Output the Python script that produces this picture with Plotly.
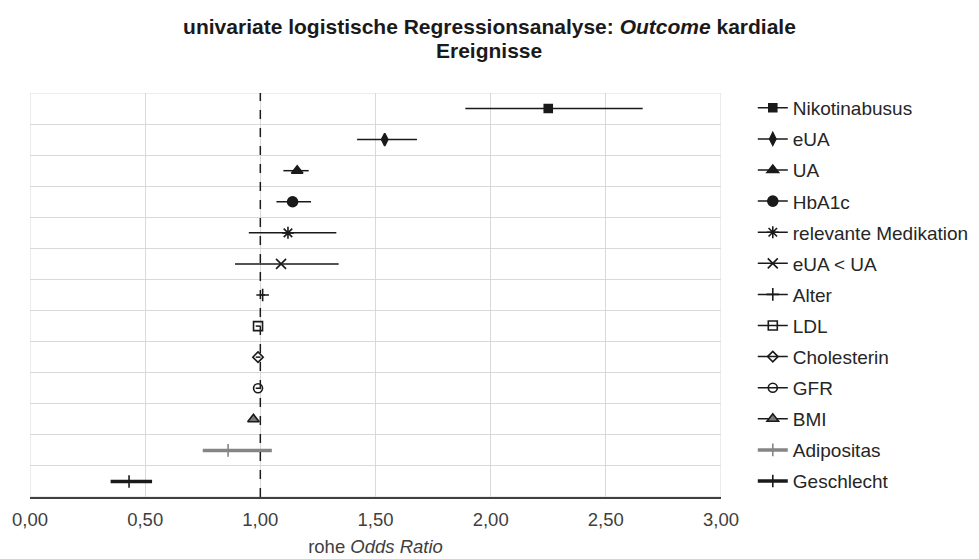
import plotly.graph_objects as go

# Predictors, top to bottom
predictors = ["Nikotinabusus", "eUA", "UA", "HbA1c", "relevante Medikation",
              "eUA < UA", "Alter", "LDL", "Cholesterin", "GFR", "BMI",
              "Adipositas", "Geschlecht"]
odds_ratio = [2.25, 1.54, 1.16, 1.14, 1.12, 1.09, 1.01, 0.99, 0.99, 0.99, 0.97, 0.86, 0.43]
ci_lower = [1.89, 1.42, 1.10, 1.07, 0.95, 0.89, 1.00, 0.98, 0.98, 0.98, 0.96, 0.75, 0.35]
ci_upper = [2.66, 1.68, 1.21, 1.22, 1.33, 1.34, 1.02, 1.00, 1.00, 1.00, 0.98, 1.05, 0.53]
x_ticks = [0, 0.5, 1.0, 1.5, 2.0, 2.5, 3.0]

# Marker / line style per predictor
symbols = ["square", "diamond-tall", "triangle-up", "circle", "asterisk-open",
           "x-thin-open", "cross-thin-open", "square-open", "diamond-open",
           "circle-open", "triangle-up", "line-ns-open", "line-ns-open"]
sizes = [8, 9, 10, 10, 10, 10, 9, 9, 8, 9, 10, 9, 9]
colors = ["#1a1a1a"] * 11 + ["#858585", "#1a1a1a"]
fills = ["#1a1a1a"] * 10 + ["#7a7a7a", "#858585", "#1a1a1a"]
widths = [1.5] * 11 + [3.5, 3.5]

n = len(predictors)
fig = go.Figure()
for i, name in enumerate(predictors):
    ypos = n - i - 0.5
    fig.add_trace(go.Scatter(
        x=[odds_ratio[i]], y=[ypos], name=name, mode="lines+markers",
        legendgroup=name,
        line=dict(color=colors[i], width=widths[i]),
        marker=dict(symbol=symbols[i], size=sizes[i], color=fills[i],
                    line=dict(color=colors[i], width=1.6)),
        error_x=dict(type="data", symmetric=False,
                     array=[ci_upper[i] - odds_ratio[i]],
                     arrayminus=[odds_ratio[i] - ci_lower[i]],
                     width=0, thickness=widths[i], color=colors[i]),
        showlegend=True,
    ))

# Frame lines on the left/right/top edges of the plot area
fig.add_shape(type="rect", x0=0, x1=3, y0=0, y1=n, xref="x", yref="y",
              line=dict(color="#d9d9d9", width=1), layer="below")

# Reference line at OR = 1
fig.add_shape(type="line", x0=1, x1=1, y0=0, y1=n, xref="x", yref="y",
              line=dict(color="#1a1a1a", width=1.5, dash="dash"))

title_font = dict(family="Liberation Sans, Arial, sans-serif", size=21, color="#1a1a1a")

# Second title line, set tighter than the default title line spacing
fig.add_annotation(
    text="<b>Ereignisse</b>", xref="paper", yref="paper",
    x=(979 / 2 - 30) / 691, y=1 + (93 - 51) / 404,
    xanchor="center", yanchor="middle", showarrow=False, font=title_font,
)

fig.update_layout(
    width=979, height=559,
    paper_bgcolor="white", plot_bgcolor="white",
    margin=dict(l=30, r=258, t=93, b=62, autoexpand=False),
    separators=",.",
    font=dict(family="Liberation Sans, Arial, sans-serif", size=18, color="#404040"),
    title=dict(
        text="<b>univariate logistische Regressionsanalyse: <i>Outcome</i> kardiale</b>",
        x=0.5, xanchor="center", xref="container",
        y=1 - 27 / 559, yanchor="middle", yref="container",
        font=title_font,
    ),
    xaxis=dict(
        range=[0, 3], tickvals=x_ticks, tickformat=".2f",
        showgrid=True, gridcolor="#d9d9d9", gridwidth=1,
        zeroline=False, showline=True, linecolor="#404040", linewidth=1.5,
        ticks="", tickfont=dict(size=18.5, color="#404040"),
        ticklabelstandoff=5, automargin=False,
        title=dict(text="rohe <i>Odds Ratio</i>", font=dict(size=18.5, color="#404040"),
                   standoff=11),
    ),
    yaxis=dict(
        range=[0, n], tickvals=list(range(n + 1)), showticklabels=False,
        showgrid=True, gridcolor="#d9d9d9", gridwidth=1,
        zeroline=False, showline=False, ticks="", automargin=False,
    ),
    legend=dict(
        x=1.046, xanchor="left", y=1.01, yanchor="top",
        tracegroupgap=3.4, font=dict(size=19, color="#262626"),
        itemwidth=30, bgcolor="rgba(0,0,0,0)", maxheight=1,
    ),
)

fig.write_html("out.html")
